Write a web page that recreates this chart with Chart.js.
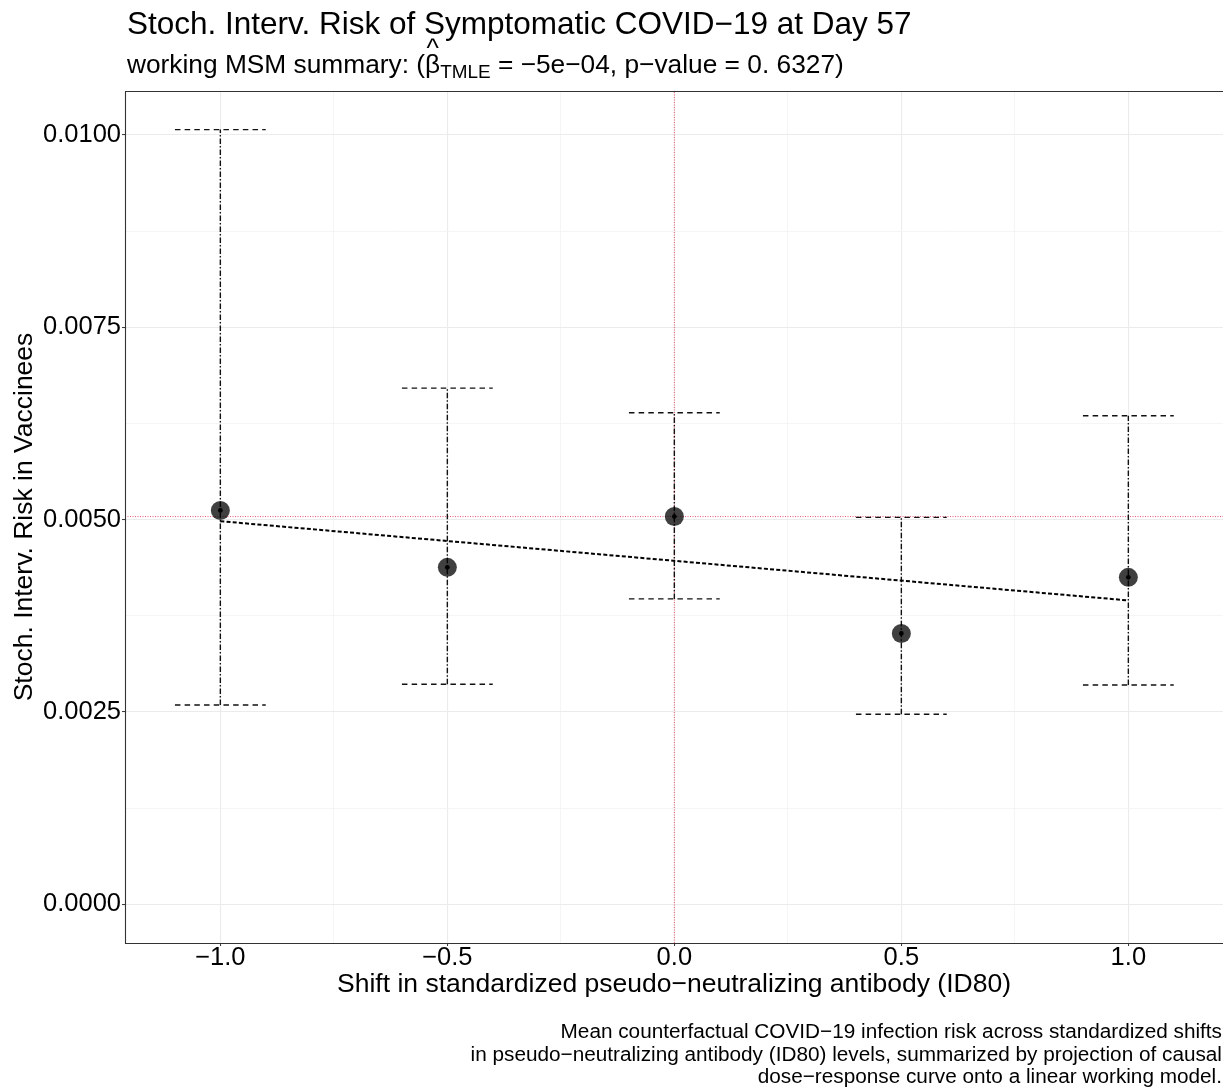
<!DOCTYPE html>
<html>
<head>
<meta charset="utf-8">
<script src="https://cdn.jsdelivr.net/npm/chart.js@4.4.1/dist/chart.umd.min.js"></script>
<style>
  html, body { margin: 0; padding: 0; background: #fff; overflow: hidden; width: 1223px; height: 1089px; }
  #wrap { position: relative; width: 1223px; height: 1089px; overflow: hidden; font-family: "Liberation Sans", Arial, sans-serif; color: #000; }
  #plot { position: absolute; left: 0; top: 0; }
  .txt { position: absolute; white-space: nowrap; }
  #title { left: 127px; top: 7.5px; font-size: 31.5px; line-height: 31px; }
  #subtitle { left: 127px; top: 51px; font-size: 26.3px; line-height: 26px; }
  .hat { position: relative; display: inline-block; }
  .hat .caret { position: absolute; left: 0; right: 0; top: -0.6em; text-align: center; }
  #subtitle sub { font-size: 0.72em; vertical-align: -0.28em; line-height: 0; }
  #caption { left: 0; width: 1222px; top: 1020px; font-size: 20.75px; line-height: 22.5px; text-align: right; }
</style>
</head>
<body>
<div id="wrap">
  <canvas id="plot" width="1223" height="1089"></canvas>
  <div class="txt" id="title">Stoch. Interv. Risk of Symptomatic COVID−19 at Day 57</div>
  <div class="txt" id="subtitle">working MSM summary: (<span class="hat">β<span class="caret">^</span></span><sub>TMLE</sub> = −5e−04, p−value = 0. 6327)</div>
  <div class="txt" id="caption">Mean counterfactual COVID−19 infection risk across standardized shifts<br>in pseudo−neutralizing antibody (ID80) levels, summarized by projection of causal<br>dose−response curve onto a linear working model.</div>
</div>
<script>
// Shifts in standardized ID80 and the estimated risk with its confidence limits
const shifts   = [-1.0, -0.5, 0.0, 0.5, 1.0];
const riskEst  = [0.00512, 0.00438, 0.00504, 0.00352, 0.00425];
const ciLower  = [0.00259, 0.00286, 0.00397, 0.00247, 0.00285];
const ciUpper  = [0.01007, 0.00671, 0.00639, 0.00503, 0.00635];

// Linear working MSM projection, evaluated at the ends of the shift range
const msmShift = [-1.0, 1.0];
const msmRisk  = [0.00498, 0.00395];

// Reference lines: no shift, and the risk under no shift
const refShift = 0.0;
const refRisk  = riskEst[2];

// Visible axis ranges and ticks (the panel runs on past the right page edge)
const xRange = [-1.21, 1.2085];
const yRange = [-0.000503, 0.010572];
const xMajorTicks = [-1.0, -0.5, 0.0, 0.5, 1.0];
const xMinorTicks = [-0.75, -0.25, 0.25, 0.75];
const yMajorTicks = [0, 0.0025, 0.005, 0.0075, 0.01];
const yMinorTicks = [0.00125, 0.00375, 0.00625, 0.00875];

const capHalf = 0.1;   // half width of the error bar caps, in shift units
const FONT = '"Liberation Sans", Arial, sans-serif';

const whiskers = [];
const caps = [];
shifts.forEach((s, i) => {
  whiskers.push({ x: s, y: ciLower[i] }, { x: s, y: ciUpper[i] }, { x: s, y: null });
  caps.push({ x: s - capHalf, y: ciUpper[i] }, { x: s + capHalf, y: ciUpper[i] }, { x: s, y: null });
  caps.push({ x: s - capHalf, y: ciLower[i] }, { x: s + capHalf, y: ciLower[i] }, { x: s, y: null });
});
const points = shifts.map((s, i) => ({ x: s, y: riskEst[i] }));
const msmLine = msmShift.map((s, i) => ({ x: s, y: msmRisk[i] }));

// Panel frame on the left, top and bottom
const panelBorder = {
  id: 'panelBorder',
  afterDatasetsDraw(chart) {
    const { ctx, chartArea: a } = chart;
    const l = Math.round(a.left) + 0.5, t = Math.round(a.top) + 0.5;
    const b = Math.round(a.bottom) + 0.5, r = a.right + 2;
    ctx.save();
    ctx.strokeStyle = '#333333';
    ctx.lineWidth = 1.1;
    ctx.beginPath();
    ctx.moveTo(r, t); ctx.lineTo(l, t); ctx.lineTo(l, b); ctx.lineTo(r, b);
    ctx.stroke();
    ctx.restore();
  }
};

const isIn = (arr, v) => arr.some(t => Math.abs(t - v) < 1e-9);
const gridOpts = majors => ({
  color: c => isIn(majors, c.tick.value) ? '#ebebeb' : '#f3f3f3',
  lineWidth: c => isIn(majors, c.tick.value) ? 1.1 : 0.8,
  tickColor: c => isIn(majors, c.tick.value) ? '#333333' : 'rgba(0,0,0,0)',
  tickWidth: 1,
  tickLength: 3,
  drawTicks: true
});

const line = (data, extra) => Object.assign({
  type: 'line', data, showLine: true, spanGaps: false,
  pointRadius: 0, pointHoverRadius: 0, fill: false, tension: 0
}, extra);

const refColor = 'rgba(232,60,85,0.85)';

new Chart(document.getElementById('plot'), {
  type: 'scatter',
  data: {
    datasets: [
      line(msmLine, { order: 1, borderColor: '#000', borderWidth: 2, borderDash: [4, 2.2] }),
      { type: 'scatter', data: points, order: 2, pointRadius: 2.4, pointHoverRadius: 2.4,
        backgroundColor: '#000', borderWidth: 0 },
      { type: 'scatter', data: points, order: 3, pointRadius: 9.5, pointHoverRadius: 9.5,
        backgroundColor: 'rgba(0,0,0,0.75)', borderWidth: 0 },
      line(caps, { order: 4, borderColor: '#111', borderWidth: 1.4, borderDash: [5.5, 4.2] }),
      line(whiskers, { order: 5, borderColor: '#111', borderWidth: 1.4, borderDash: [5.5, 2, 1.5, 2] }),
      line([{ x: xRange[0], y: refRisk }, { x: xRange[1], y: refRisk }],
           { order: 6, borderColor: refColor, borderWidth: 1, borderDash: [1, 1.5] }),
      line([{ x: refShift, y: yRange[0] }, { x: refShift, y: yRange[1] }],
           { order: 7, borderColor: refColor, borderWidth: 1, borderDash: [1, 1.5] })
    ]
  },
  options: {
    responsive: false,
    animation: false,
    events: [],
    layout: { autoPadding: false, padding: { left: 0, top: 91, right: 0, bottom: 76 } },
    plugins: { legend: { display: false }, tooltip: { enabled: false }, title: { display: false } },
    scales: {
      x: {
        type: 'linear', min: xRange[0], max: xRange[1],
        afterBuildTicks: s => { s.ticks = xMajorTicks.concat(xMinorTicks).map(v => ({ value: v })); },
        afterFit: s => { s.height = 70; },
        grid: gridOpts(xMajorTicks),
        border: { display: false },
        ticks: {
          autoSkip: false, maxRotation: 0, padding: 0, color: '#000',
          font: { family: FONT, size: 25.5, lineHeight: 0.9 },
          callback: v => isIn(xMajorTicks, v) ? (v < 0 ? '−' : '') + Math.abs(v).toFixed(1) : ''
        },
        title: {
          display: true, text: 'Shift in standardized pseudo−neutralizing antibody (ID80)',
          color: '#000', font: { family: FONT, size: 26.5 }, padding: { top: 0, bottom: 12 }
        }
      },
      y: {
        type: 'linear', min: yRange[0], max: yRange[1],
        afterBuildTicks: s => { s.ticks = yMajorTicks.concat(yMinorTicks).map(v => ({ value: v })); },
        afterFit: s => { s.width = 125; },
        grid: gridOpts(yMajorTicks),
        border: { display: false },
        ticks: {
          autoSkip: false, padding: 1, color: '#000',
          font: { family: FONT, size: 25.5 },
          callback: v => isIn(yMajorTicks, v) ? v.toFixed(4) : ''
        },
        title: {
          display: true, text: 'Stoch. Interv. Risk in Vaccinees',
          color: '#000', font: { family: FONT, size: 26.5 }, padding: { top: 9, bottom: 0 }
        }
      }
    }
  },
  plugins: [panelBorder]
});
</script>
</body>
</html>
